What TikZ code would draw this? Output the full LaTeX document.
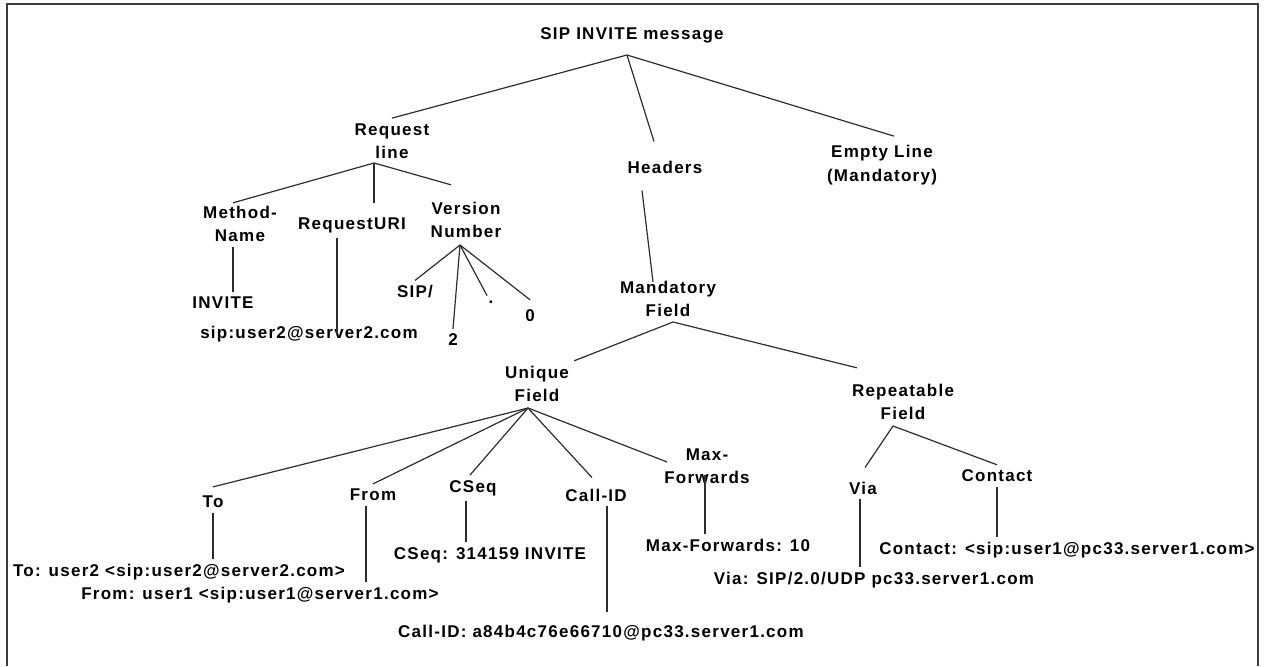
\documentclass[tikz,border=0pt]{standalone}
\usepackage{fontspec}
\usetikzlibrary{calc}
\newfontfamily\sipfont[LetterSpace=7.4]{Liberation Sans}
\definecolor{SipInk}{RGB}{0,0,0}
\definecolor{SipLine}{RGB}{45,45,45}
\definecolor{SipFrame}{RGB}{60,60,60}
\tikzset{
  sip/label/.style={
    align=center,
    inner sep=5pt,
    text=SipInk,
    font=\sipfont\bfseries\fontsize{17}{23.5}\selectfont
  },
  sip/edge/.style={draw=SipLine, line width=1.2pt},
  sip/frame/.style={draw=SipFrame, line width=1.5pt}
}

\begin{document}
\begin{tikzpicture}[x=1pt,y=-1pt]
  \useasboundingbox (0,0) rectangle (1273,666);
  \draw[sip/frame] (7,666) -- (7,4) -- (1258,4) -- (1258,666);

  % top level
  \node[sip/label] (msg) at (632,35) {SIP INVITE message};
  \node[sip/label] (reqline) at (392,141) {Request\\line};
  \node[sip/label] (headers) at (665,167) {Headers};
  \node[sip/label] (emptyline) at (882,165) {Empty Line\\(Mandatory)};
  \coordinate (msgfork) at (627,55);
  \draw[sip/edge] (msgfork) -- (reqline.north);
  \draw[sip/edge] (msgfork) -- ($(headers.north)+(-11,-14)$);
  \draw[sip/edge] (msgfork) -- ($(emptyline.north)+(12,-4)$);

  % request line
  \node[sip/label] (method) at (240,224) {Method-\\Name};
  \node[sip/label] (requri) at (352,225) {RequestURI};
  \node[sip/label] (version) at (466,220) {Version\\Number};
  \coordinate (reqfork) at (374,163);
  \draw[sip/edge] (reqfork) -- ($(method.north)+(-7,2)$);
  \draw[sip/edge] (reqfork) -- ($(reqfork |- requri.north)+(0,-9)$);
  \draw[sip/edge] (reqfork) -- ($(version.north)+(-15,-12)$);

  \node[sip/label] (invite) at (223,303) {INVITE};
  \node[sip/label] (urival) at (309,334) {sip:user2@server2.com};
  \draw[sip/edge] ($(method.south)+(-7,0)$) -- ($(method.south |- invite.north)+(-7,0)$);
  \draw[sip/edge] ($(requri.south)+(-15,0)$) -- ($(requri.south |- urival.center)+(-15,0)$);

  \node[sip/label] (sipver) at (415,292) {SIP/};
  \node[sip/label] (major) at (453,340) {2};
  \node[sip/label] (dot) at (491,302) {.};
  \node[sip/label] (minor) at (530,316) {0};
  \coordinate (verfork) at (460,245);
  \draw[sip/edge] (verfork) -- (sipver.north);
  \draw[sip/edge] (verfork) -- (major.north);
  \draw[sip/edge] (verfork) -- ($(dot.north)+(-4,0)$);
  \draw[sip/edge] (verfork) -- ($(minor.north)+(0,-5)$);

  % headers
  \node[sip/label] (mandatory) at (668,299) {Mandatory\\Field};
  \draw[sip/edge] ($(headers.south)+(-23,12)$) -- ($(mandatory.north)+(-15,6)$);
  \node[sip/label] (unique) at (537,384) {Unique\\Field};
  \node[sip/label] (repeatable) at (903,402) {Repeatable\\Field};
  \coordinate (mandfork) at (673,322);
  \draw[sip/edge] (mandfork) -- (unique.north east);
  \draw[sip/edge] (mandfork) -- ($(repeatable.north west)+(10,-11)$);

  % unique fields
  \node[sip/label] (to) at (213,502) {To};
  \node[sip/label] (from) at (373,495) {From};
  \node[sip/label] (cseq) at (473,488) {CSeq};
  \node[sip/label] (callid) at (596,495) {Call-ID};
  \node[sip/label] (maxfwd) at (707,466) {Max-\\Forwards};
  \coordinate (uniqfork) at (528,408);
  \draw[sip/edge] (uniqfork) -- ($(to.north)+(0,-4)$);
  \draw[sip/edge] (uniqfork) -- (from.north);
  \draw[sip/edge] (uniqfork) -- ($(cseq.north)+(-3,0)$);
  \draw[sip/edge] (uniqfork) -- ($(callid.north)+(-4,-6)$);
  \draw[sip/edge] (uniqfork) -- ($(maxfwd.west)+(8,-4)$);

  \node[sip/label] (toval) at (179,572) {To: user2 <sip:user2@server2.com>};
  \node[sip/label] (fromval) at (260,595) {From: user1 <sip:user1@server1.com>};
  \node[sip/label] (cseqval) at (490,555) {CSeq: 314159 INVITE};
  \node[sip/label] (callidval) at (601,633) {Call-ID: a84b4c76e66710@pc33.server1.com};
  \node[sip/label] (maxfwdval) at (728,545) {Max-Forwards: 10};
  \draw[sip/edge] (to.south) -- (to.south |- toval.north);
  \draw[sip/edge] ($(from.south)+(-7,0)$) -- ($(from.south |- fromval.north)+(-7,0)$);
  \draw[sip/edge] ($(cseq.south)+(-7,0)$) -- ($(cseq.south |- cseqval.north)+(-7,0)$);
  \draw[sip/edge] ($(callid.south)+(11,0)$) -- ($(callid.south |- callidval.north)+(11,-8)$);
  \draw[sip/edge] ($(maxfwd.center)+(-2,9)$) -- ($(maxfwd.center |- maxfwdval.north)+(-2,0)$);

  % repeatable fields
  \node[sip/label] (via) at (863,488) {Via};
  \node[sip/label] (contact) at (997,476) {Contact};
  \coordinate (repfork) at (893,426);
  \draw[sip/edge] (repfork) -- ($(via.north)+(2,-9)$);
  \draw[sip/edge] (repfork) -- (contact.north);

  \node[sip/label] (viaval) at (874,580) {Via: SIP/2.0/UDP pc33.server1.com};
  \node[sip/label] (contactval) at (1067,550) {Contact: <sip:user1@pc33.server1.com>};
  \draw[sip/edge] ($(via.south)+(-3,0)$) -- ($(via.south |- viaval.north)+(-3,0)$);
  \draw[sip/edge] (contact.south) -- (contact.south |- contactval.north);
\end{tikzpicture}
\end{document}
